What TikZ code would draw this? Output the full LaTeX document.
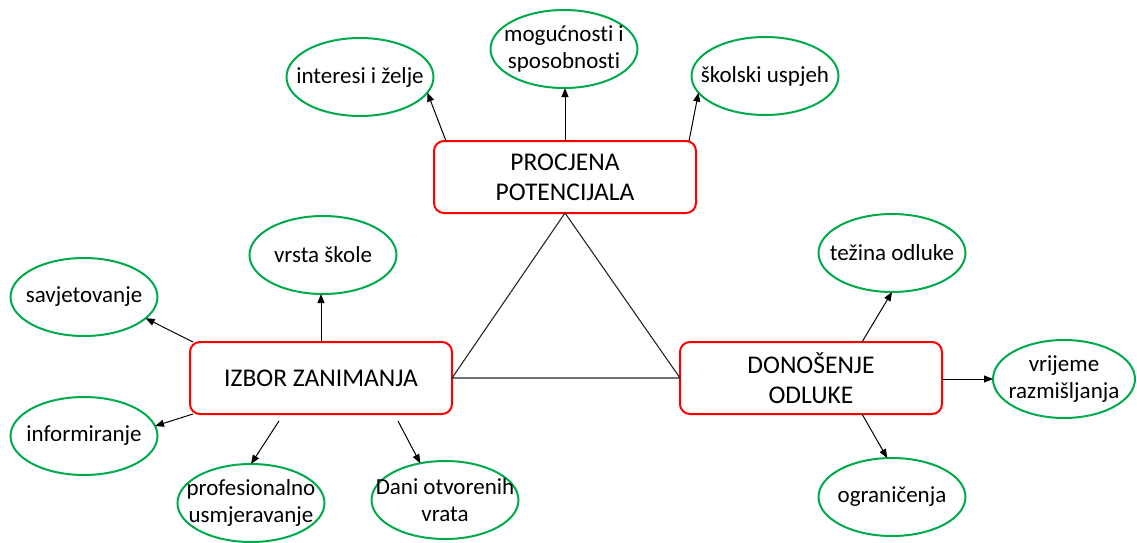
\documentclass[tikz,border=0pt]{standalone}
\usepackage{fontspec}
\setmainfont{Carlito}[Ligatures=NoCommon]
\usetikzlibrary{shapes.geometric,arrows.meta,calc}
\definecolor{boxred}{RGB}{255,0,0}
\definecolor{ellgreen}{RGB}{0,170,75}
\begin{document}
\begin{tikzpicture}[x=1pt,y=-1pt,
 box/.style={draw=boxred, line width=2pt, rounded corners=10pt, minimum width=262pt, minimum height=72pt, align=center, font=\fontsize{25.5}{30}\selectfont, inner sep=0pt, outer sep=0pt, fill=white},
 ell/.style={draw=ellgreen, line width=2pt, ellipse, minimum width=147pt, minimum height=78pt, inner sep=0pt, outer sep=0pt},
 etxt/.style={align=center, font=\fontsize{23}{26.5}\selectfont, inner sep=0pt},
 arr/.style={-{Triangle[length=9pt,width=7pt]}, line width=1pt},
 tri/.style={line width=1.1pt, black!85}]
\useasboundingbox (0,0) rectangle (1137,543);
% main boxes
\node[box] (pp) at (565,177) {PROCJENA\\POTENCIJALA};
\node[box] (iz) at (321,378) {IZBOR ZANIMANJA};
\node[box] (do) at (811,378) {DONOŠENJE\\ODLUKE};
% ellipses
\node[ell, label={[etxt]center:interesi i želje}] (int) at (360,77) {};
\node[ell, label={[etxt]center:mogućnosti i\\sposobnosti}] (mog) at (564,49) {};
\node[ell, label={[etxt]center:školski uspjeh}] (sko) at (765,76) {};
\node[ell, label={[etxt]center:vrsta škole}] (vs) at (323,255) {};
\node[ell, label={[etxt]center:savjetovanje}] (sav) at (84,297) {};
\node[ell, label={[etxt]center:informiranje}] (inf) at (84,436) {};
\node[ell, label={[etxt]center:profesionalno\\usmjeravanje}] (pro) at (251,503) {};
\node[ell, label={[etxt]center:Dani otvorenih\\vrata}] (dani) at (445,500) {};
\node[ell, label={[etxt]center:težina odluke}] (tez) at (892,253) {};
\node[ell, minimum width=142pt, label={[etxt]center:vrijeme\\razmišljanja}] (vri) at (1064,379) {};
\node[ell, label={[etxt]center:ograničenja}] (ogr) at (892,497) {};
% triangle
\draw[tri] (pp.south) -- (iz.east) -- (do.west) -- cycle;
% arrows
\draw[arr] ([xshift=12pt]pp.north west) -- (int.-13);
\draw[arr] (pp.north) -- (pp.north |- mog.south);
\draw[arr] ([xshift=-7pt]pp.north east) -- (sko.-166);
\draw[arr] (iz.north) -- (iz.north |- vs.south);
\draw[arr] ([xshift=3pt]iz.north west) -- (sav.-19);
\draw[arr] ([xshift=3pt]iz.south west) -- (inf.8);
\draw[arr] ([shift={(-42,7)}]iz.south) -- (pro.90);
\draw[arr] ([shift={(77,7)}]iz.south) -- (dani.124);
\draw[arr] ([xshift=51pt]do.north) -- (tez.-90);
\draw[arr] ([yshift=-1pt]do.east) -- ([yshift=-1pt]do.east -| vri.west);
\draw[arr] ([xshift=51pt]do.south) -- (ogr.97);
\end{tikzpicture}
\end{document}
